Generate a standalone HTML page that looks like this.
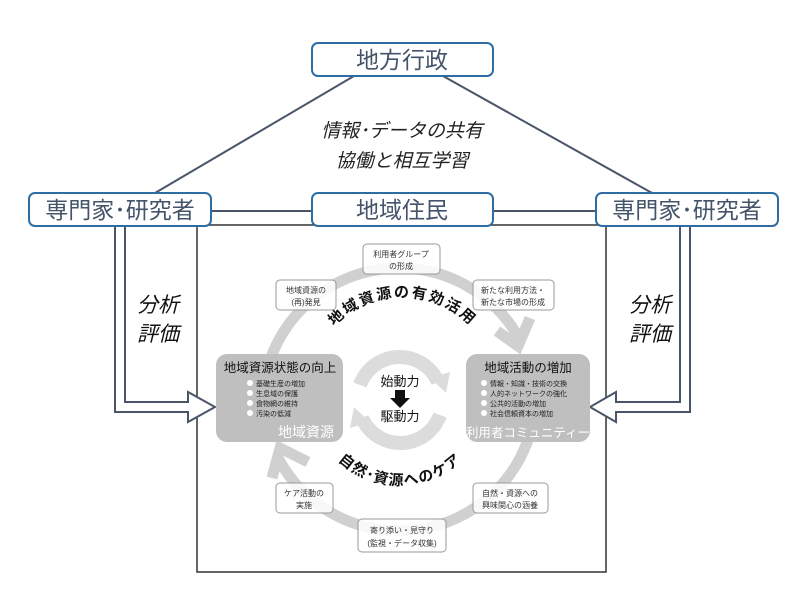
<!DOCTYPE html>
<html><head><meta charset="utf-8"><style>
body{margin:0;background:#fff}
svg{display:block}
text{font-family:"Liberation Sans","Noto Sans CJK JP",sans-serif}
</style></head><body>
<svg width="800" height="598" viewBox="0 0 800 598" xmlns="http://www.w3.org/2000/svg">
<rect width="800" height="598" fill="#fff"/>
<line x1="354" y1="76" x2="155" y2="193" stroke="#4a5668" stroke-width="2"/>
<line x1="443" y1="76" x2="652" y2="193" stroke="#4a5668" stroke-width="2"/>
<line x1="211" y1="211" x2="312" y2="211" stroke="#4a5668" stroke-width="2"/>
<line x1="493" y1="211" x2="596" y2="211" stroke="#4a5668" stroke-width="2"/>
<rect x="197" y="225" width="409" height="347" fill="none" stroke="#333" stroke-width="1.5"/>
<g fill="#fff" stroke="#2e6da4" stroke-width="2">
<rect x="312" y="43" width="181" height="33" rx="6"/>
<rect x="29" y="193" width="182" height="33" rx="6"/>
<rect x="312" y="193" width="181" height="33" rx="6"/>
<rect x="596" y="193" width="182" height="33" rx="6"/>
</g>
<g fill="#44546a" font-size="23" text-anchor="middle">
<text x="402" y="68">地方行政</text>
<text x="120" y="218">専門家･研究者</text>
<text x="402" y="218">地域住民</text>
<text x="687" y="218">専門家･研究者</text>
</g>
<g font-size="19" font-style="italic" text-anchor="middle" fill="#222">
<text x="402" y="137">情報･データの共有</text>
<text x="402" y="167">協働と相互学習</text>
</g>
<g font-size="21" font-style="italic" text-anchor="middle" fill="#111">
<text x="158" y="312">分析</text>
<text x="158" y="341">評価</text>
<text x="650" y="312">分析</text>
<text x="650" y="341">評価</text>
</g>
<path d="M115,227 V412 H188 V422 L215,407 L188,392 V402 H125 V227" fill="#fff" stroke="#4a5668" stroke-width="2"/>
<path d="M690,227 V412 H616 V422 L590,407 L616,392 V402 H680 V227" fill="#fff" stroke="#4a5668" stroke-width="2"/>
<g fill="none" stroke="#d0d0d0" stroke-width="11">
<path d="M270,360 A137,137 0 0 1 520,340"/>
<path d="M528,440 A137,137 0 0 1 278,458"/>
<polyline points="497,331 518,346 530,318"/>
<polyline points="272,478 280,448 308,462"/>
</g>
<g fill="none" stroke="#dcdcdc" stroke-width="14">
<path d="M360,385 A42,42 0 0 1 438,382"/>
<path d="M440,415 A42,42 0 0 1 362,418"/>
</g>
<polygon points="430,378 450,372 446,393" fill="#dcdcdc"/>
<polygon points="370,422 350,428 354,407" fill="#dcdcdc"/>
<text x="400" y="386" font-size="13" text-anchor="middle" fill="#111">始動力</text>
<polygon points="395,390 405,390 405,398 410,398 400,408 390,398 395,398" fill="#111"/>
<text x="400" y="421" font-size="13" text-anchor="middle" fill="#111">駆動力</text>
<defs>
<path id="topArc" d="M320,345 A95,95 0 0 1 485,345"/>
<path id="botArc" d="M325,445 A90,90 0 0 0 475,445"/>
</defs>
<text font-size="15" font-weight="bold" fill="#111" letter-spacing="2"><textPath href="#topArc" startOffset="50%" text-anchor="middle">地域資源の有効活用</textPath></text>
<text font-size="15" font-weight="bold" fill="#111" letter-spacing="1"><textPath href="#botArc" startOffset="50%" text-anchor="middle">自然･資源へのケア</textPath></text>
<rect x="216" y="354" width="127" height="88" rx="11" fill="#bfbfbf"/>
<rect x="466" y="354" width="124" height="88" rx="11" fill="#bfbfbf"/>
<text x="280" y="372" font-size="12.5" text-anchor="middle" fill="#111">地域資源状態の向上</text>
<g font-size="7" fill="#222">
<circle cx="250" cy="383" r="3" fill="#fff"/><text x="256" y="386">基礎生産の増加</text>
<circle cx="250" cy="393" r="3" fill="#fff"/><text x="256" y="396">生息域の保護</text>
<circle cx="250" cy="403" r="3" fill="#fff"/><text x="256" y="406">食物網の維持</text>
<circle cx="250" cy="413" r="3" fill="#fff"/><text x="256" y="416">汚染の低減</text>
<circle cx="484" cy="383" r="3" fill="#fff"/><text x="490" y="386">情報・知識・技術の交換</text>
<circle cx="484" cy="393" r="3" fill="#fff"/><text x="490" y="396">人的ネットワークの強化</text>
<circle cx="484" cy="403" r="3" fill="#fff"/><text x="490" y="406">公共的活動の増加</text>
<circle cx="484" cy="413" r="3" fill="#fff"/><text x="490" y="416">社会信頼資本の増加</text>
</g>
<text x="528" y="372" font-size="12.5" text-anchor="middle" fill="#111">地域活動の増加</text>
<text x="334" y="437" font-size="14" text-anchor="end" fill="#fff">地域資源</text>
<text x="528" y="437" font-size="12.5" text-anchor="middle" fill="#fff">利用者コミュニティー</text>
<g fill="#fff" fill-opacity="0.85" stroke="#999" stroke-width="1">
<rect x="363" y="244" width="77" height="30" rx="4"/>
<rect x="276" y="280" width="60" height="30" rx="4"/>
<rect x="473" y="280" width="81" height="30" rx="4"/>
<rect x="276" y="483" width="57" height="30" rx="4"/>
<rect x="473" y="483" width="75" height="30" rx="4"/>
<rect x="358" y="519" width="88" height="33" rx="4"/>
</g>
<g font-size="8" fill="#333" text-anchor="middle">
<text x="401" y="257">利用者グループ</text><text x="401" y="269">の形成</text>
<text x="306" y="293">地域資源の</text><text x="306" y="305">(再)発見</text>
<text x="513" y="293">新たな利用方法・</text><text x="513" y="305">新たな市場の形成</text>
<text x="304" y="496">ケア活動の</text><text x="304" y="508">実施</text>
<text x="510" y="496">自然・資源への</text><text x="510" y="508">興味関心の涵養</text>
<text x="402" y="533">寄り添い・見守り</text><text x="402" y="546">(監視・データ収集)</text>
</g>
</svg>
</body></html>
